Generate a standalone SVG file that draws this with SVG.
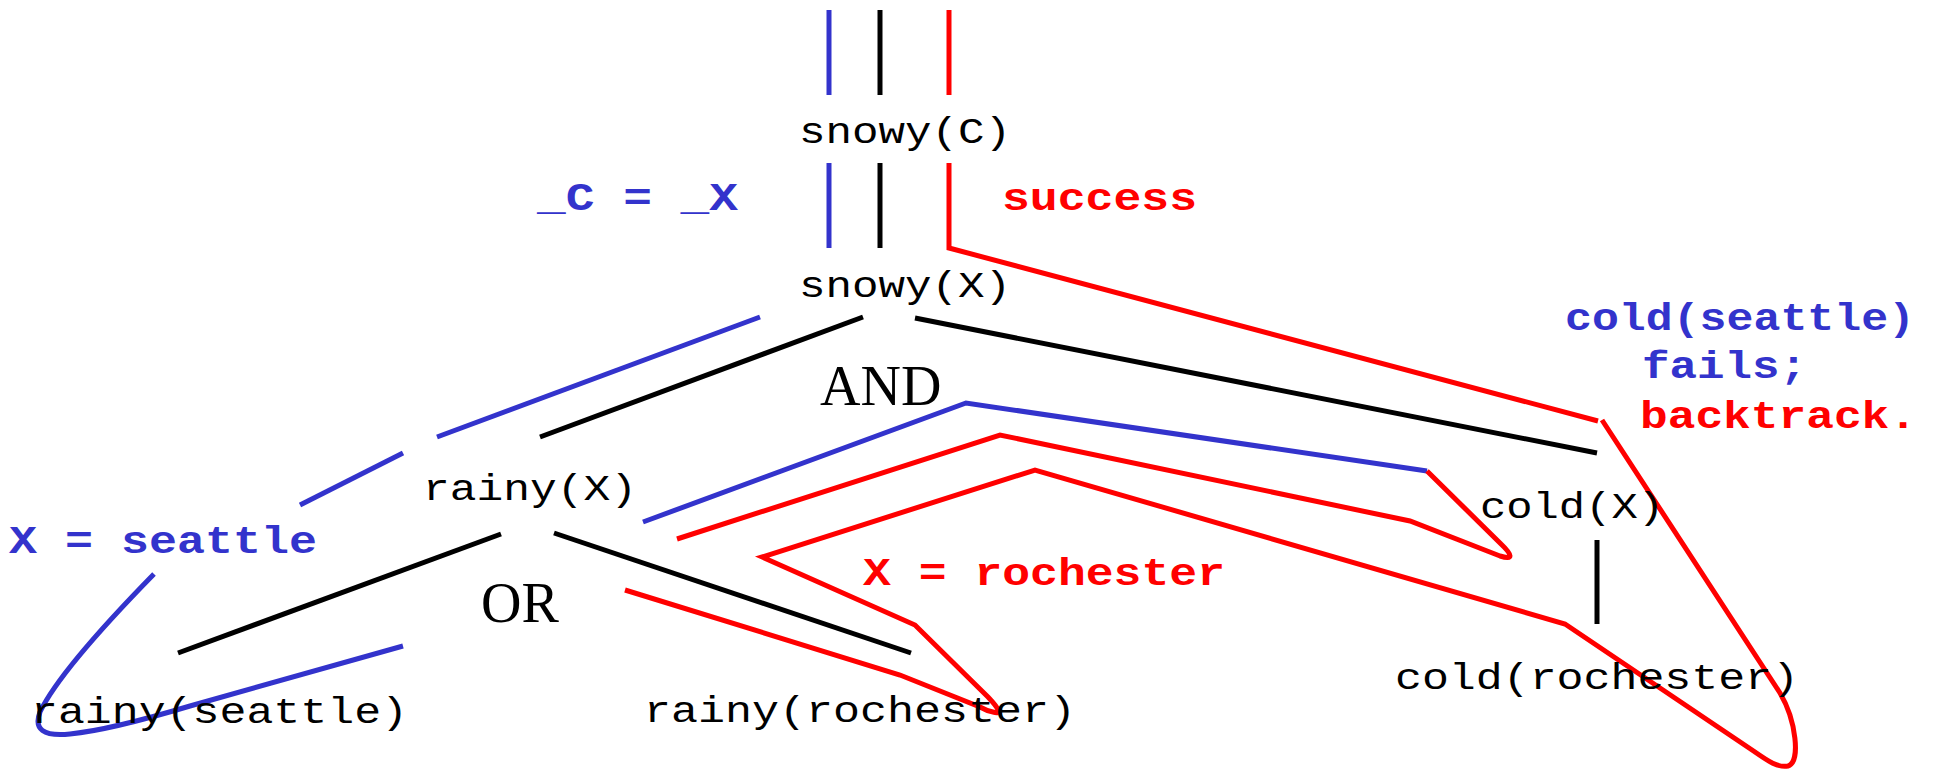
<svg xmlns="http://www.w3.org/2000/svg" width="1934" height="769" viewBox="0 0 1934 769">
<style>
.bg{fill:#ffffff}
.t{font-family:"Liberation Mono","Courier New",monospace;font-size:36px;fill:#000}
.b{font-family:"Liberation Mono","Courier New",monospace;font-size:38px;font-weight:bold}
.blue{fill:#3333CC}
.redt{fill:#FF0000}
.op{font-family:"Liberation Serif","Times New Roman",serif;font-size:56px;fill:#000}
.k{stroke:#000;stroke-width:5;fill:none}
.bl{stroke:#3333CC;stroke-width:5;fill:none}
.r{stroke:#FF0000;stroke-width:5;fill:none}
</style>
<rect class="bg" x="0" y="0" width="1934" height="769"/>
<g id="connectors">
  <path class="bl" d="M829,10 V95"/>
  <path class="k" d="M880,10 V95"/>
  <path class="r" d="M949,10 V95"/>
  <path class="bl" d="M829,163 V248"/>
  <path class="k" d="M880,163 V248"/>
  <path class="r" d="M949,163 V248 L1598,421"/>
  <path class="bl" d="M760,317 L437,437"/>
  <path class="bl" d="M403,453 L300,505"/>
  <path class="bl" d="M154,574 Q60,670 40,712 Q30,738 70,734 Q110,730 190,706 L403,646"/>
  <path class="k" d="M863,317 L540,437"/>
  <path class="k" d="M915,318 L1597,453"/>
  <path class="k" d="M501,534 L178,653"/>
  <path class="k" d="M554,533 L911,653"/>
  <path class="k" d="M1597,540 V624"/>
  <path class="bl" d="M643,522 L966,403 L1427,471"/>
  <path class="r" d="M1427,471 L1500,543 Q1520,562 1500,556 L1410,521 L1000,435 L677,539"/>
  <path class="r" d="M1602,420 L1780,693 C1796,720 1801,762 1788,766 C1778,768 1768,761 1755,752 L1565,624 L1035,470 L762,557 L915,625 L988,697 Q1006,716 993,712 Q987,711 980,707 L900,675 L625,590"/>
</g>
<g id="snowy-C"><text class="t" x="799" y="143" textLength="212" lengthAdjust="spacingAndGlyphs">snowy(C)</text></g>
<g id="snowy-X"><text class="t" x="799" y="297" textLength="212" lengthAdjust="spacingAndGlyphs">snowy(X)</text></g>
<g id="label-unify"><text class="b blue" x="537" y="210" textLength="201" lengthAdjust="spacingAndGlyphs">_C = _X</text></g>
<g id="label-success"><text class="b redt" x="1002" y="210" textLength="195" lengthAdjust="spacingAndGlyphs">success</text></g>
<g id="and"><text class="op" x="820" y="405">AND</text></g>
<g id="rainy-X"><text class="t" x="423" y="500" textLength="214" lengthAdjust="spacingAndGlyphs">rainy(X)</text></g>
<g id="or"><text class="op" x="481" y="622">OR</text></g>
<g id="label-seattle"><text class="b blue" x="9" y="553" textLength="308" lengthAdjust="spacingAndGlyphs">X = seattle</text></g>
<g id="label-rochester"><text class="b redt" x="863" y="585" textLength="362" lengthAdjust="spacingAndGlyphs">X = rochester</text></g>
<g id="rainy-seattle"><text class="t" x="31" y="723" textLength="377" lengthAdjust="spacingAndGlyphs">rainy(seattle)</text></g>
<g id="rainy-rochester"><text class="t" x="644" y="722" textLength="432" lengthAdjust="spacingAndGlyphs">rainy(rochester)</text></g>
<g id="cold-X"><text class="t" x="1480" y="518" textLength="184" lengthAdjust="spacingAndGlyphs">cold(X)</text></g>
<g id="cold-rochester"><text class="t" x="1395" y="689" textLength="404" lengthAdjust="spacingAndGlyphs">cold(rochester)</text></g>
<g id="label-fails">
  <text class="b blue" x="1565" y="330" textLength="350" lengthAdjust="spacingAndGlyphs">cold(seattle)</text>
  <text class="b blue" x="1642" y="378" textLength="165" lengthAdjust="spacingAndGlyphs">fails;</text>
  <text class="b redt" x="1640" y="428" textLength="277" lengthAdjust="spacingAndGlyphs">backtrack.</text>
</g>
</svg>
